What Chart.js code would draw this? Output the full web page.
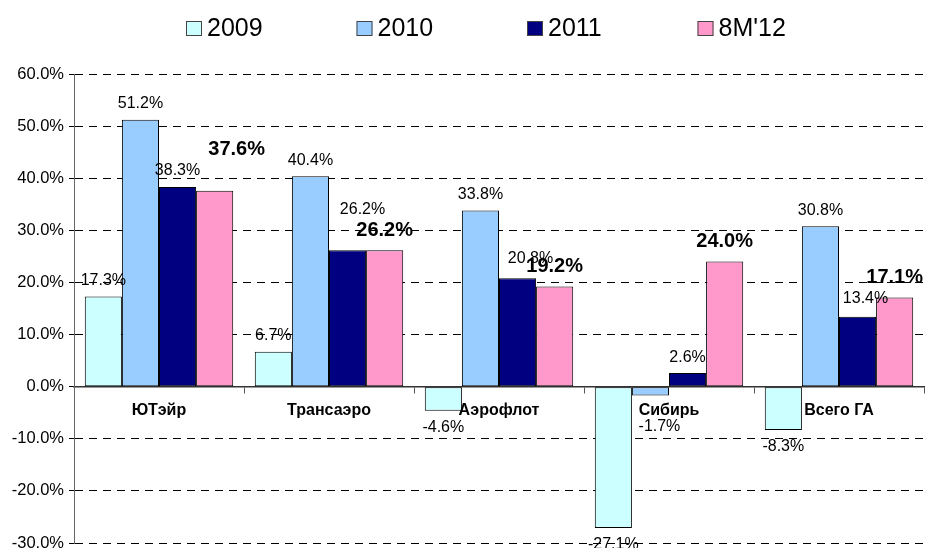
<!DOCTYPE html>
<html><head><meta charset="utf-8">
<script src="https://cdn.jsdelivr.net/npm/chart.js@4.4.0/dist/chart.umd.min.js"></script>
<style>html,body{margin:0;padding:0;background:#fff}#wrap{width:925px;height:548px;position:relative}</style>
</head><body><div id="wrap"><canvas id="c"></canvas></div>
<script>
const categories = ['ЮТэйр', 'Трансаэро', 'Аэрофлот', 'Сибирь', 'Всего ГА'];
const seriesNames = ['2009', '2010', '2011', "8M'12"];
const v2009 = [17.3, 6.7, -4.6, -27.1, -8.3];
const v2010 = [51.2, 40.4, 33.8, -1.7, 30.8];
const v2011 = [38.3, 26.2, 20.8, 2.6, 13.4];
const v8m12 = [37.6, 26.2, 19.2, 24.0, 17.1];
const yTicks = [-30, -20, -10, 0, 10, 20, 30, 40, 50, 60];

const colors = ['#CCFFFF', '#99CCFF', '#000080', '#FF99CC'];
const values = [v2009, v2010, v2011, v8m12];
const FONT = 'Arial, "Liberation Sans", sans-serif';

// label nudges (dx, dy) keyed "dataset-index"
const labelNudges = { '3-0': [22, -21], '2-1': [15, -25], '2-2': [13, -4], '2-4': [8, -2], '1-3': [9, 14] };

const dataLabels = {
  id: 'dataLabels',
  afterDatasetsDraw(chart) {
    const ctx = chart.ctx;
    ctx.save();
    ctx.textAlign = 'center';
    ctx.textBaseline = 'middle';
    ctx.fillStyle = '#000';
    chart.data.datasets.forEach((ds, di) => {
      const meta = chart.getDatasetMeta(di);
      const bold = di === 3;
      ctx.font = (bold ? 'bold 20px ' : '16px ') + FONT;
      meta.data.forEach((el, i) => {
        const v = ds.data[i];
        const n = labelNudges[di + '-' + i] || [0, 0];
        let y = v >= 0 ? el.y - (bold ? 20 : 16) : el.y + 17;
        ctx.fillText(v.toFixed(1) + '%', el.x + n[0], y + n[1]);
      });
    });
    ctx.restore();
  }
};

const topLegend = {
  id: 'topLegend',
  afterDraw(chart) {
    const ctx = chart.ctx;
    ctx.save();
    ctx.font = '25px ' + FONT;
    ctx.textBaseline = 'middle';
    ctx.textAlign = 'left';
    const startX = 186, step = 170.5, cy = 28.5;
    chart.data.datasets.forEach((ds, i) => {
      const x = startX + i * step;
      ctx.fillStyle = ds.backgroundColor;
      ctx.fillRect(x, cy - 7.5, 16, 15);
      ctx.strokeStyle = '#444';
      ctx.lineWidth = 1;
      ctx.strokeRect(x + 0.5, cy - 7.5 + 0.5, 15, 14);
      ctx.fillStyle = '#000';
      ctx.fillText(ds.label, x + 21, cy + 1);
    });
    ctx.restore();
  }
};

new Chart(document.getElementById('c'), {
  type: 'bar',
  data: {
    labels: categories,
    datasets: seriesNames.map((name, i) => ({
      label: name,
      data: values[i],
      backgroundColor: colors[i],
      borderColor: '#000',
      borderWidth: 1,
      borderSkipped: false,
      categoryPercentage: 0.873,
      barPercentage: 1.0
    }))
  },
  options: {
    responsive: true,
    maintainAspectRatio: false,
    animation: false,
    events: [],
    layout: { padding: { left: 0, right: 1, top: 74, bottom: 5 } },
    plugins: { legend: { display: false }, tooltip: { enabled: false } },
    scales: {
      x: {
        type: 'category',
        position: { y: 0 },
        offset: true,
        grid: { display: true, drawOnChartArea: false, drawTicks: true, tickLength: 6, color: '#555', offset: true },
        border: { display: true, color: '#333', width: 1.5 },
        ticks: { color: '#000', font: { family: FONT, size: 16, weight: 'bold' }, padding: 8, maxRotation: 0 }
      },
      y: {
        min: yTicks[0],
        max: yTicks[yTicks.length - 1],
        afterFit(scale) { scale.width = 74; scale.paddingTop = 0; scale.paddingBottom = 0; },
        afterBuildTicks(scale) { scale.ticks = yTicks.map(v => ({ value: v })); },
        ticks: {
          color: '#000',
          font: { family: FONT, size: 16.5 },
          padding: 5,
          callback: v => Number(v).toFixed(1) + '%'
        },
        grid: { color: '#000', lineWidth: 1, tickLength: 5, drawTicks: true },
        border: { display: true, color: '#666', width: 1, dash: [8, 6] }
      }
    }
  },
  plugins: [dataLabels, topLegend]
});
</script>
</body></html>
